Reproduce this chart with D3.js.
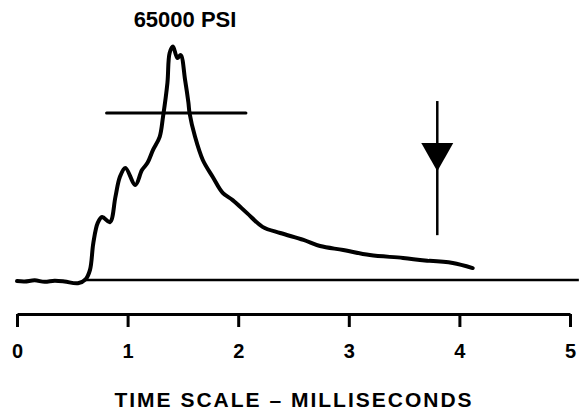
<!DOCTYPE html>
<html lang="en">
<head>
  <meta charset="UTF-8">
  <title>Pressure trace</title>
  <style>
    body { margin: 0; background: #fff; }
    text { font-family: 'Liberation Sans', Arial, sans-serif; font-weight: bold; fill: #000; }
  </style>
</head>
<body>
  <svg width="579" height="411"></svg>
  <script src="https://cdn.jsdelivr.net/npm/d3@7/dist/d3.min.js"></script>
  <script>
    // time in milliseconds, pressure in thousands of psi (null = gap in the trace)
    var traceTime = [0, 0.07, 0.16, 0.25, 0.34, 0.43, 0.55, 0.62, 0.66, 0.69, 0.73, 0.77, 0.84,
      0.89, 0.93, 0.98, 1.07, 1.13, 1.18, 1.23, 1.29, 1.32, 1.36, 1.38, 1.41, 1.45, 1.48, 1.52,
      1.55, 1.56, 1.61, 1.68, 1.77, 1.86, 1.95, 2.08, 2.22, 2.38, 2.59, 2.74, 2.95, 3.19, 3.49,
      3.71, 3.72, 3.73, 3.94, 4.12]
    var tracePsi = [-0.3, -0.4, -0.1, -0.5, -0.2, -0.4, -0.9, 0.2, 2.8, 10.2, 15.8, 17.4, 16.0,
      23.0, 28.5, 31.0, 26.3, 30.4, 32.4, 36.0, 39.6, 45.1, 54.5, 62.8, 64.6, 61.4, 62.2, 55.3,
      49.0, 46.2, 39.6, 33.2, 28.5, 24.1, 22.1, 18.5, 14.7, 13.0, 11.1, 9.4, 8.3, 6.9, 6.1,
      5.3, null, 5.3, 4.7, 3.3]

    var zeroLine = [0.6, 5.08]
    var markerLine = { t: [0.81, 2.07], p: 46.2 }
    var arrow = { t: 3.8, top: 49.5, bottom: 12.4, head: [37.9, 30.1] }
    var xTicks = [0, 1, 2, 3, 4, 5]
    var peakLabel = '65000 PSI'
    var axisTitle = 'TIME SCALE \u2013 MILLISECONDS'

    var svg = d3.select('svg')

    var x = d3.scaleLinear().domain([0, 5]).range([17, 570])
    var y = d3.scaleLinear().domain([0, 65]).range([280, 45])

    var data = traceTime.map(function(t, i) { return { t: t, p: tracePsi[i] } })

    // zero line
    svg.append('line')
      .attr('x1', x(zeroLine[0])).attr('x2', x(zeroLine[1]))
      .attr('y1', y(0)).attr('y2', y(0))
      .attr('stroke', '#000').attr('stroke-width', 2.5)

    // pressure trace
    var line = d3.line()
      .defined(function(d) { return d.p != null })
      .x(function(d) { return x(d.t) })
      .y(function(d) { return y(d.p) })
      .curve(d3.curveCatmullRom.alpha(0.5))

    svg.append('path')
      .datum(data)
      .attr('d', line)
      .attr('fill', 'none')
      .attr('stroke', '#000')
      .attr('stroke-width', 4)
      .attr('stroke-linejoin', 'round')
      .attr('stroke-linecap', 'round')

    // horizontal marker
    svg.append('line')
      .attr('x1', x(markerLine.t[0])).attr('x2', x(markerLine.t[1]))
      .attr('y1', y(markerLine.p)).attr('y2', y(markerLine.p))
      .attr('stroke', '#000').attr('stroke-width', 3)
      .attr('stroke-linecap', 'round')

    // arrow
    svg.append('line')
      .attr('x1', x(arrow.t)).attr('x2', x(arrow.t))
      .attr('y1', y(arrow.top)).attr('y2', y(arrow.bottom))
      .attr('stroke', '#000').attr('stroke-width', 2.5)
    var ax = x(arrow.t)
    svg.append('path')
      .attr('d', 'M' + (ax - 16) + ',' + y(arrow.head[0]) +
        'L' + (ax + 16) + ',' + y(arrow.head[0]) +
        'L' + ax + ',' + y(arrow.head[1]) + 'Z')
      .attr('fill', '#000')

    // peak label
    svg.append('text')
      .attr('x', 185).attr('y', 27)
      .attr('text-anchor', 'middle')
      .style('font-size', '22px')
      .text(peakLabel)

    // time axis
    var axis = svg.append('g')
      .attr('transform', 'translate(0,314)')
      .call(d3.axisBottom(x).tickValues(xTicks).tickSize(13).tickSizeOuter(0).tickPadding(17)
        .tickFormat(d3.format('d')))
    axis.select('.domain').attr('stroke-width', 3)
    axis.selectAll('.tick line').attr('stroke-width', 3)
    axis.selectAll('.tick text')
      .attr('font-family', null).attr('font-size', null)
      .style('font-size', '20px')

    svg.append('text')
      .attr('x', 294).attr('y', 407)
      .attr('text-anchor', 'middle')
      .style('font-size', '21px')
      .style('letter-spacing', '2px')
      .text(axisTitle)
  </script>
</body>
</html>
